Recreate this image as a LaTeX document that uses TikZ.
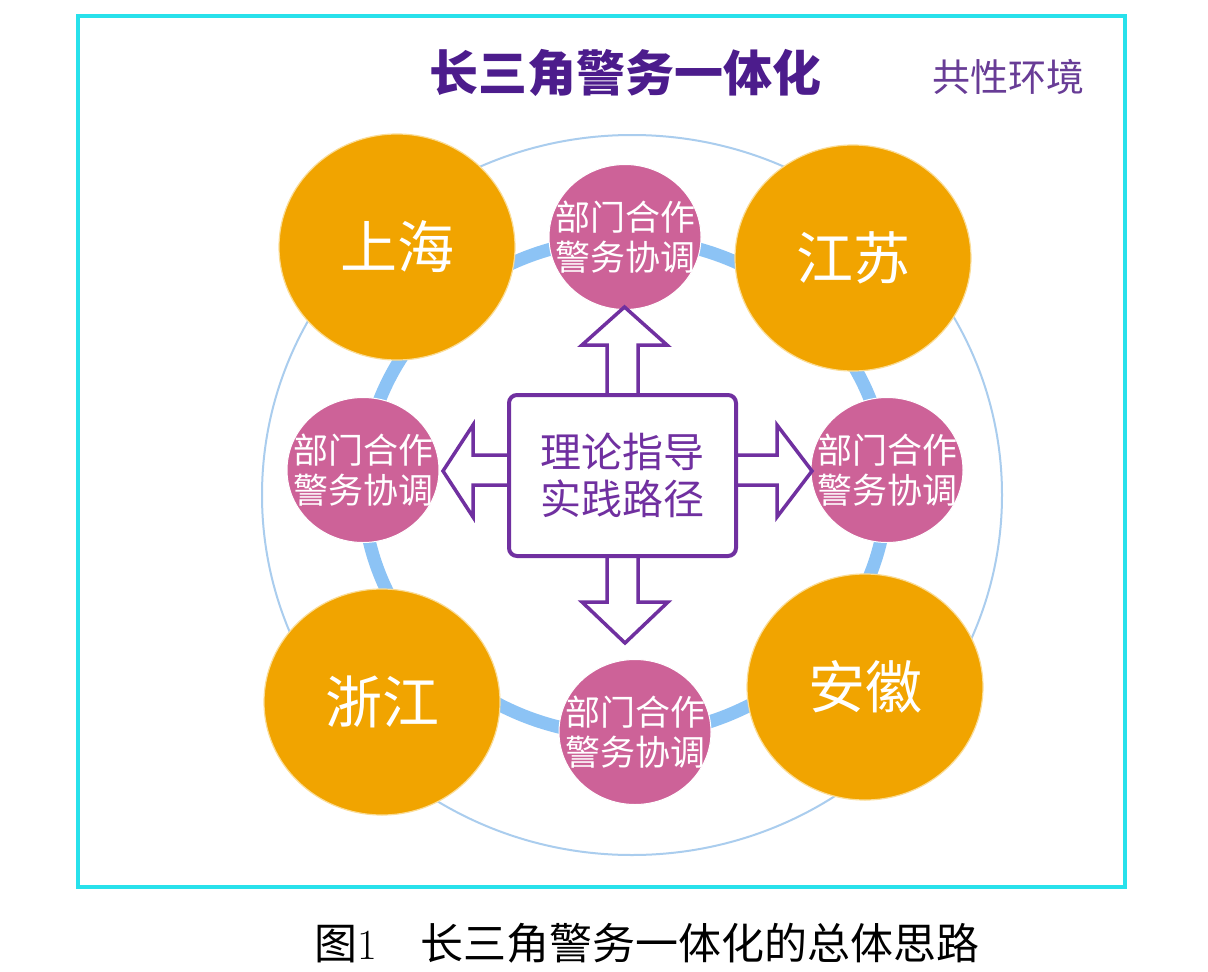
\documentclass[tikz,border=0pt]{standalone}
\usepackage{fontspec}
\usepackage{xcolor}
\usepackage{tikz}
\usetikzlibrary{shapes.geometric}
\newfontfamily\cjk{Noto Sans CJK SC}
\definecolor{cityorange}{RGB}{241,164,0}
\definecolor{cityedge}{RGB}{250,220,150}
\definecolor{coopink}{RGB}{205,98,152}
\definecolor{guide}{RGB}{112,48,160}
\definecolor{titlepurple}{RGB}{76,28,140}
\definecolor{envpurple}{RGB}{104,60,150}
\definecolor{band}{RGB}{140,195,245}
\definecolor{ring}{RGB}{170,205,238}
\definecolor{frame}{RGB}{40,225,235}

\begin{document}
\begin{tikzpicture}[x=1pt, y=-1pt,
  city/.style={ellipse, fill=cityorange, draw=cityedge, line width=1.2pt, minimum width=236pt, minimum height=226pt, inner sep=0pt, text=white, font=\cjk\fontsize{57}{60}\selectfont},
  coop/.style={ellipse, fill=coopink, draw=white, line width=1pt, minimum width=152pt, minimum height=145pt, inner sep=0pt},
  coopText/.style={text=white, align=center, inner sep=0pt, font=\cjk\fontsize{35}{40}\selectfont},
  blockarrow/.style={draw=guide, fill=white, line width=3.5pt, line join=miter}]
\fill[white] (0,0) rectangle (1208,972);
\useasboundingbox (0,0) rectangle (1208,972);
\draw[frame, line width=4pt] (78,16) rectangle (1125,887);

\node[font=\cjk\bfseries\fontsize{49}{52}\selectfont, text=titlepurple] (title) at (625,73) {长三角警务一体化};
\node[font=\cjk\fontsize{38}{40}\selectfont, text=envpurple] (env) at (1008,77) {共性环境};

\draw[ring, line width=2pt] (632,495) ellipse [x radius=370pt, y radius=360pt];
\draw[band, line width=13pt] (625,487) ellipse [x radius=262pt, y radius=248pt];

\node[city] (sh) at (397,247) {上海};
\node[city] (js) at (853,258) {江苏};
\node[city] (zj) at (382,702) {浙江};
\node[city] (ah) at (865,687) {安徽};

\node[coop, label={[coopText]center:{部门合作\\警务协调}}] (pT) at (625,237) {};
\node[coop, label={[coopText]center:{部门合作\\警务协调}}] (pL) at (363,470) {};
\node[coop, label={[coopText]center:{部门合作\\警务协调}}] (pR) at (887,470) {};
\node[coop, label={[coopText]center:{部门合作\\警务协调}}] (pB) at (635,732) {};

\draw[blockarrow] (607,395) -- (607,345) -- (582,345) -- (624.5,307) -- (667,345) -- (638,345) -- (638,395) -- cycle;
\draw[blockarrow] (607,556) -- (607,602) -- (582,602) -- (625,643) -- (668,602) -- (638,602) -- (638,556) -- cycle;
\draw[blockarrow] (509,455) -- (473,455) -- (473,425) -- (443,471) -- (473,517) -- (473,485) -- (509,485) -- cycle;
\draw[blockarrow] (736,455) -- (777,455) -- (777,425) -- (812,471) -- (777,517) -- (777,485) -- (736,485) -- cycle;

\node[draw=guide, line width=4pt, rounded corners=8pt, fill=white, minimum width=227pt, minimum height=161pt, align=center, text=guide, font=\cjk\fontsize{41}{47}\selectfont] (core) at (622.5,475.5) {理论指导\\实践路径};

\node[font=\cjk\fontsize{43}{46}\selectfont] (caption) at (647,943) {图{\rmfamily 1}\quad 长三角警务一体化的总体思路};
\end{tikzpicture}
\end{document}
